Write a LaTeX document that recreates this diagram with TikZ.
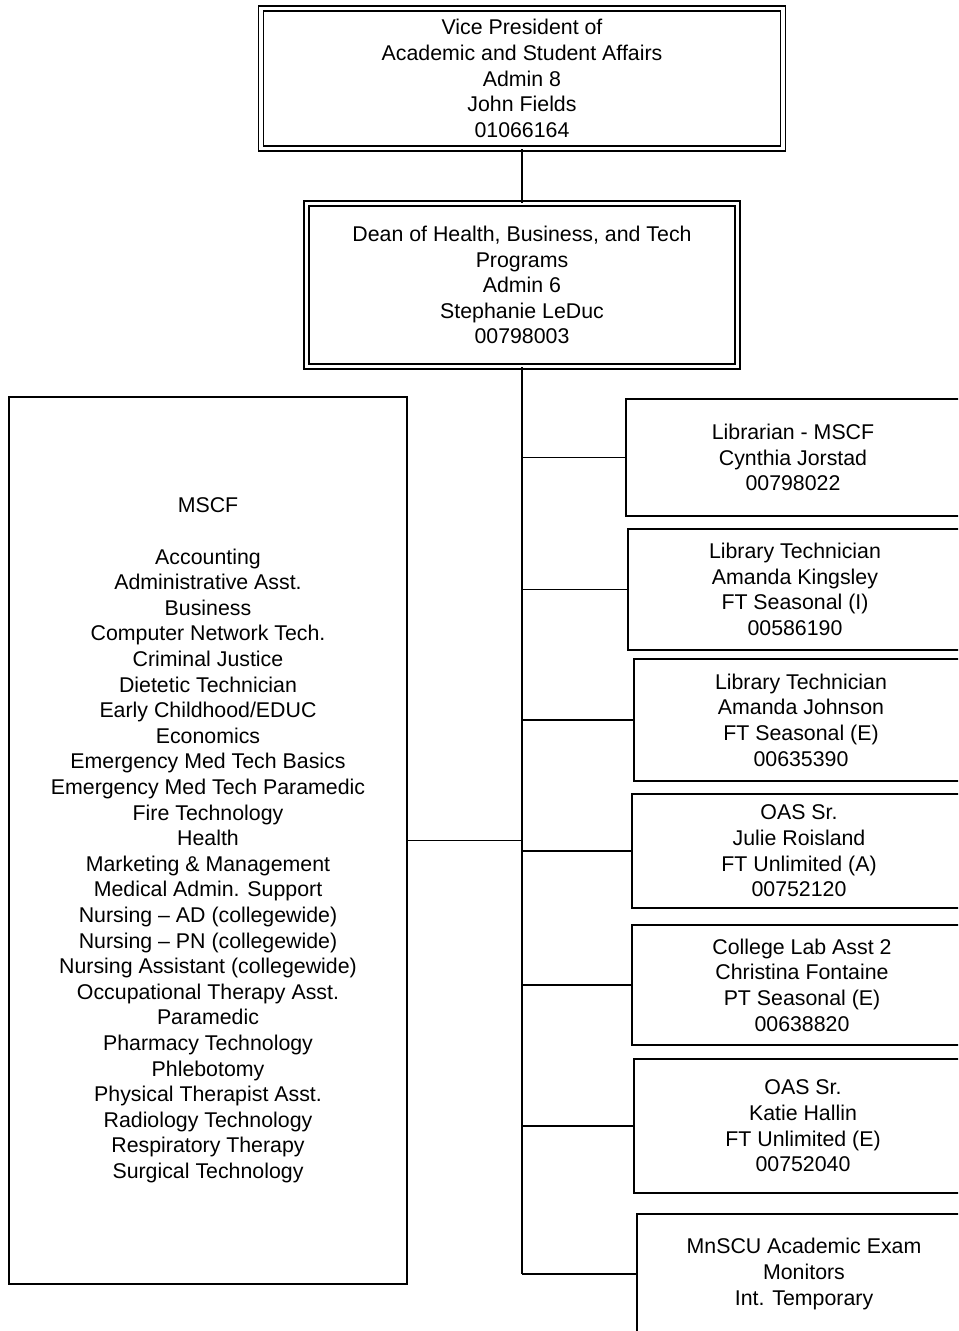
\documentclass[tikz,border=0pt]{standalone}
\usepackage{fontspec}
\setmainfont{Liberation Sans}
\begin{document}
\begin{tikzpicture}[x=0.75pt,y=-0.75pt,
  txt/.style={font=\fontsize{16}{19.2}\selectfont, align=center, inner sep=0pt, text=black},
  box/.style={txt, draw=black, line width=1.2pt, rectangle},
  dbl/.style={txt, draw=black, line width=1.2pt, double, double distance=2.5pt, rectangle},
  conn/.style={draw=black, line width=1.2pt}]
\useasboundingbox (0,0) rectangle (958,1331);
\clip (0,0) rectangle (958,1331);
\fill[white] (0,0) rectangle (958,1331);

\node[dbl, minimum width={522*0.75pt}, minimum height={140*0.75pt}] (vp) at (522,78.5)
  {Vice President of\\Academic and Student Affairs\\Admin 8\\John Fields\\01066164};
\node[dbl, minimum width={431*0.75pt}, minimum height={163*0.75pt}] (dean) at (522,285)
  {Dean of Health, Business, and Tech\\Programs\\Admin 6\\Stephanie LeDuc\\00798003};

\node[box, minimum width={398*0.75pt}, minimum height={887*0.75pt}] (mscf) at (208,840.5)
  {MSCF\\[19.2pt]Accounting\\Administrative Asst.\\Business\\Computer Network Tech.\\Criminal Justice\\Dietetic Technician\\Early Childhood/EDUC\\Economics\\Emergency Med Tech Basics\\Emergency Med Tech Paramedic\\Fire Technology\\Health\\Marketing \& Management\\Medical Admin. Support\\Nursing -- AD (collegewide)\\Nursing -- PN (collegewide)\\Nursing Assistant (collegewide)\\Occupational Therapy Asst.\\Paramedic\\Pharmacy Technology\\Phlebotomy\\Physical Therapist Asst.\\Radiology Technology\\Respiratory Therapy\\Surgical Technology};

\node[box, minimum width={334*0.75pt}, minimum height={117*0.75pt}] (r1) at (793,457.5)
  {Librarian - MSCF\\Cynthia Jorstad\\00798022};
\node[box, minimum width={334*0.75pt}, minimum height={121*0.75pt}] (r2) at (795,589.5)
  {Library Technician\\Amanda Kingsley\\FT Seasonal (I)\\00586190};
\node[box, minimum width={334*0.75pt}, minimum height={122*0.75pt}] (r3) at (801,720)
  {Library Technician\\Amanda Johnson\\FT Seasonal (E)\\00635390};
\node[box, minimum width={334*0.75pt}, minimum height={114*0.75pt}] (r4) at (799,851)
  {OAS Sr.\\Julie Roisland\\FT Unlimited (A)\\00752120};
\node[box, minimum width={340*0.75pt}, minimum height={120*0.75pt}] (r5) at (802,985)
  {College Lab Asst 2\\Christina Fontaine\\PT Seasonal (E)\\00638820};
\node[box, minimum width={338*0.75pt}, minimum height={134*0.75pt}] (r6) at (803,1126)
  {OAS Sr.\\Katie Hallin\\FT Unlimited (E)\\00752040};
\node[box, minimum width={334*0.75pt}, minimum height={120*0.75pt}] (r7) at (804,1274)
  {MnSCU Academic Exam\\Monitors\\Int. Temporary};

\coordinate (trunk) at (522,1274);
\draw[conn] (vp.south) -- (dean.north);
\draw[conn] (dean.south) -- (trunk);
\draw[conn] (mscf.east) -- (dean.south |- mscf.east);
\foreach \r in {r1,r2,r3,r4,r5,r6,r7}
  \draw[conn] (dean.south |- \r.west) -- (\r.west);
\end{tikzpicture}
\end{document}
